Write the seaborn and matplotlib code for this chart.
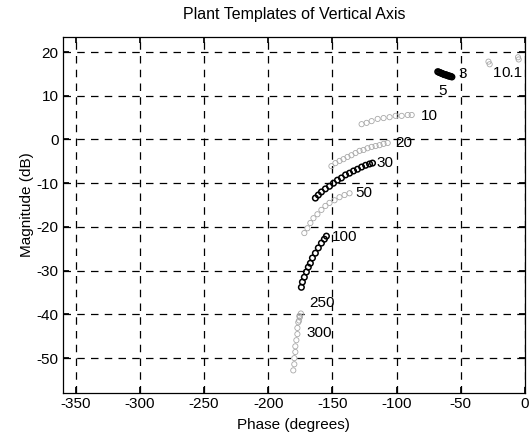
import numpy as np
import pandas as pd
import matplotlib
matplotlib.use("Agg")
import matplotlib.pyplot as plt
import seaborn as sns

# Template frequencies (rad/s) and their phase/magnitude points
freqs = ["0.1", "1", "3", "5", "10", "20", "30", "50", "100", "250", "300"]
shades = ["light", "light", "dark", "dark", "light", "light", "dark", "light", "dark", "light", "light"]

phase_01 = [-5.5, -5.0]
mag_01 = [18.8, 18.3]

phase_1 = [-28.5, -27.6]
mag_1 = [17.8, 17.2]

phase_3 = [-62.5, -61.7, -60.9, -60.2, -59.4, -58.6, -57.8, -57.0]
mag_3 = [14.8, 14.8, 14.7, 14.6, 14.5, 14.5, 14.4, 14.3]

phase_5 = [-68.0, -67.2, -66.4, -65.6, -64.8, -64.0, -63.3]
mag_5 = [15.5, 15.4, 15.3, 15.2, 15.1, 15.0, 14.9]

phase_10 = [-127.3, -123.4, -119.5, -114.8, -110.2, -105.5, -100.8, -96.1, -91.4, -88.3]
mag_10 = [3.5, 3.8, 4.2, 4.7, 4.9, 5.1, 5.4, 5.4, 5.6, 5.6]

phase_20 = [-150.8, -147.7, -144.5, -141.4, -138.3, -135.2, -132.0, -128.9,
            -125.8, -122.7, -119.5, -116.4, -113.3, -110.2, -107.0]
mag_20 = [-6.1, -5.4, -4.9, -4.5, -4.0, -3.6, -3.1, -2.6,
          -2.4, -2.0, -1.7, -1.5, -1.3, -1.0, -0.8]

phase_30 = [-163.3, -161.0, -158.6, -155.5, -152.3, -149.2, -146.1, -143.0,
            -139.8, -136.7, -133.6, -130.5, -127.3, -124.2, -121.1, -118.8]
mag_30 = [-13.4, -12.7, -12.0, -11.3, -10.7, -10.0, -9.3, -8.8,
          -8.1, -7.7, -7.2, -6.8, -6.3, -5.9, -5.6, -5.4]

phase_50 = [-171.9, -169.5, -167.2, -164.8, -161.7, -158.6, -155.5, -152.3,
            -148.4, -144.5, -140.6, -136.7]
mag_50 = [-21.4, -20.3, -19.1, -18.0, -17.1, -16.1, -15.2, -14.5,
          -13.9, -13.2, -12.7, -12.3]

phase_100 = [-174.2, -173.4, -171.9, -170.3, -168.8, -167.2, -165.6, -163.3,
             -161.0, -158.6, -156.3, -154.7]
mag_100 = [-33.8, -32.6, -31.5, -30.3, -29.2, -28.3, -27.1, -26.0,
           -24.8, -23.7, -22.8, -22.1]

phase_250 = [-174.6, -175.3, -176.0]
mag_250 = [-39.8, -40.6, -41.4]

phase_300 = [-175.8, -176.6, -177.3, -177.3, -178.1, -178.9, -178.9, -179.7, -179.7, -180.5]
mag_300 = [-40.4, -41.8, -43.1, -44.5, -45.9, -47.3, -48.6, -50.0, -51.4, -52.8]

phases = [phase_01, phase_1, phase_3, phase_5, phase_10, phase_20,
          phase_30, phase_50, phase_100, phase_250, phase_300]
mags = [mag_01, mag_1, mag_3, mag_5, mag_10, mag_20,
        mag_30, mag_50, mag_100, mag_250, mag_300]

# Where each frequency tag is written (phase, magnitude)
tag_pos = [(-10.2, 15.2), (-21.9, 15.2), (-48.4, 15.0), (-64.1, 11.1),
           (-74.2, 5.4), (-94.5, -0.8), (-109.4, -5.4), (-125.8, -12.3),
           (-140.6, -22.3), (-157.8, -37.4), (-160.2, -44.3)]

rows = []
for f, sh, ph, mg in zip(freqs, shades, phases, mags):
    for p, m in zip(ph, mg):
        rows.append({"freq": f, "shade": sh, "phase": p, "mag": m})
df = pd.DataFrame(rows)

sns.set_theme(style="white")
plt.rcParams["font.family"] = ["Liberation Sans", "DejaVu Sans"]
plt.rcParams["axes.unicode_minus"] = False

fig = plt.figure(figsize=(5.32, 4.32), dpi=100)
ax = fig.add_axes([0.118, 0.090, 0.869, 0.824])

styles = {
    "dark": dict(color="black", facecolor="none", edgecolor="black", linewidth=1.1, s=16),
    "light": dict(color="#9a9a9a", facecolor="none", edgecolor="#a8a8a8", linewidth=0.6, s=14),
}
for sh in ["light", "dark"]:
    sub = df[df["shade"] == sh]
    sns.scatterplot(data=sub, x="phase", y="mag", marker="o", ax=ax,
                    legend=False, zorder=3, **styles[sh])

for f, (tx, ty) in zip(freqs, tag_pos):
    ax.text(tx, ty, f, fontsize=11, ha="center", va="center", color="black", zorder=4)

ax.set_xlim(-360, 0)
ax.set_ylim(-58, 23.4)
ax.set_xticks([-350, -300, -250, -200, -150, -100, -50, 0])
ax.set_yticks([20, 10, 0, -10, -20, -30, -40, -50])
ax.grid(True, color="black", linestyle=(0, (6, 5)), linewidth=0.9)
ax.tick_params(axis="both", direction="in", length=4, labelsize=11,
               color="black", labelcolor="black", pad=3, bottom=True, left=True,
               top=True, right=True)
for sp in ax.spines.values():
    sp.set_color("black")
    sp.set_linewidth(0.9)

ax.set_title("Plant Templates of Vertical Axis", fontsize=11.5, color="black", pad=13)
ax.set_xlabel("Phase (degrees)", fontsize=11, color="black", labelpad=5)
ax.set_ylabel("Magnitude (dB)", fontsize=11, color="black")
ax.yaxis.set_label_coords(-0.062, 0.53)

fig.savefig("out.png", dpi=100, facecolor="white")
